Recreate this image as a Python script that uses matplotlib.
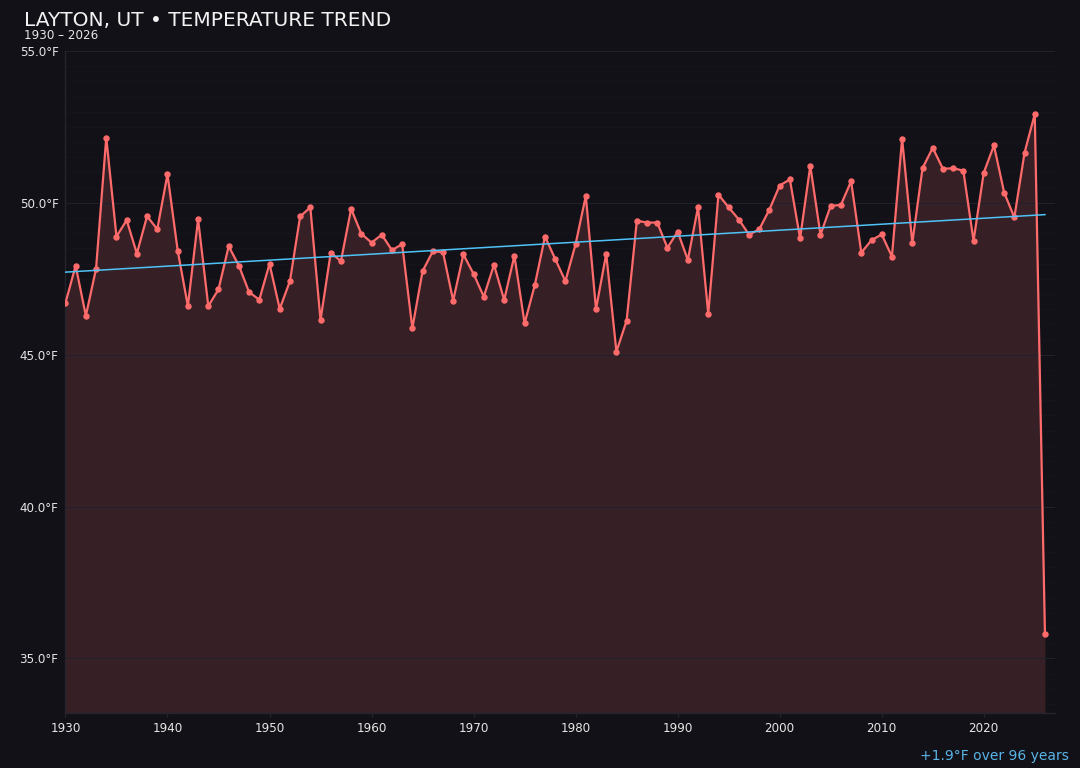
import numpy as np
import matplotlib
matplotlib.use("Agg")
import matplotlib.pyplot as plt
from matplotlib.ticker import MultipleLocator, FuncFormatter

years = list(range(1930, 2027))
temps = [
    46.70, 47.93, 46.28, 47.83, 52.15, 48.89, 49.43, 48.33, 49.56, 49.13,  # 1930s
    50.94, 48.43, 46.60, 49.46, 46.60, 47.15, 48.57, 47.93, 47.06, 46.81,  # 1940s
    47.99, 46.51, 47.42, 49.55, 49.85, 46.14, 48.36, 48.08, 49.80, 48.98,  # 1950s
    48.69, 48.95, 48.44, 48.64, 45.87, 47.75, 48.40, 48.38, 46.78, 48.30,  # 1960s
    47.66, 46.91, 47.96, 46.80, 48.26, 46.03, 47.29, 48.89, 48.15, 47.42,  # 1970s
    48.64, 50.23, 46.50, 48.32, 45.10, 46.12, 49.41, 49.35, 49.35, 48.52,  # 1980s
    49.05, 48.12, 49.86, 46.34, 50.27, 49.85, 49.45, 48.95, 49.13, 49.78,  # 1990s
    50.57, 50.77, 48.83, 51.22, 48.95, 49.90, 49.93, 50.71, 48.36, 48.77,  # 2000s
    48.96, 48.23, 52.11, 48.68, 51.14, 51.81, 51.12, 51.14, 51.06, 48.75,  # 2010s
    50.99, 51.89, 50.34, 49.52, 51.65, 52.92, 35.79,                       # 2020s
]
y_ticks = [35.0, 40.0, 45.0, 50.0, 55.0]
x_ticks = [1930, 1940, 1950, 1960, 1970, 1980, 1990, 2000, 2010, 2020]
title = "LAYTON, UT \u2022 TEMPERATURE TREND"
subtitle = "1930 \u2013 2026"
trend_note = "+1.9\u00b0F over 96 years"

BG = "#121117"
LINE = "#ff6b6b"
FILL = "#362026"
TREND = "#4fc3f7"
TEXT = "#e6e6e6"
GRID = "#22212a"

x = np.array(years, dtype=float)
y = np.array(temps)
ymin, ymax = 33.2, 55.0

fig = plt.figure(figsize=(10.8, 7.68), dpi=100, facecolor=BG)
ax = fig.add_axes([0.0606, 0.0716, 0.9164, 0.862])
ax.set_facecolor(BG)

ax.fill_between(x, ymin, y, color=FILL, zorder=1, linewidth=0)
ax.plot(x, y, color=LINE, linewidth=1.6, marker="o", markersize=3.6, zorder=3)

# linear trend
coef = np.polyfit(x, y, 1)
ax.plot(x, np.polyval(coef, x), color=TREND, linewidth=1.1, zorder=4)

ax.set_xlim(1930, 2027)
ax.set_ylim(ymin, ymax)
ax.set_xticks(x_ticks)
ax.set_yticks(y_ticks)
ax.yaxis.set_major_formatter(FuncFormatter(lambda v, p: f"{v:.1f}\u00b0F"))
ax.yaxis.set_minor_locator(MultipleLocator(0.5))
ax.grid(axis="y", which="major", color=GRID, linewidth=0.8, zorder=2)
ax.grid(axis="y", which="minor", color="#2a2830", linewidth=0.4, alpha=0.25, zorder=2)
ax.set_axisbelow(False)

for s in ["top", "right"]:
    ax.spines[s].set_visible(False)
for s in ["left", "bottom"]:
    ax.spines[s].set_color("#26252d")
    ax.spines[s].set_linewidth(1.0)

ax.tick_params(axis="both", colors="#26252d", labelcolor=TEXT, labelsize=8.6, length=3)
ax.tick_params(axis="y", which="minor", length=0)
ax.tick_params(axis="y", length=0, pad=5)

fig.text(0.022, 0.973, title, color="#f2f2f2", fontsize=14.5, ha="left", va="center")
fig.text(0.022, 0.954, subtitle, color=TEXT, fontsize=8.6, ha="left", va="center")
fig.text(0.990, 0.016, trend_note, color="#5ab4e6", fontsize=10, ha="right", va="center")

fig.savefig("out.png", dpi=100, facecolor=BG)
